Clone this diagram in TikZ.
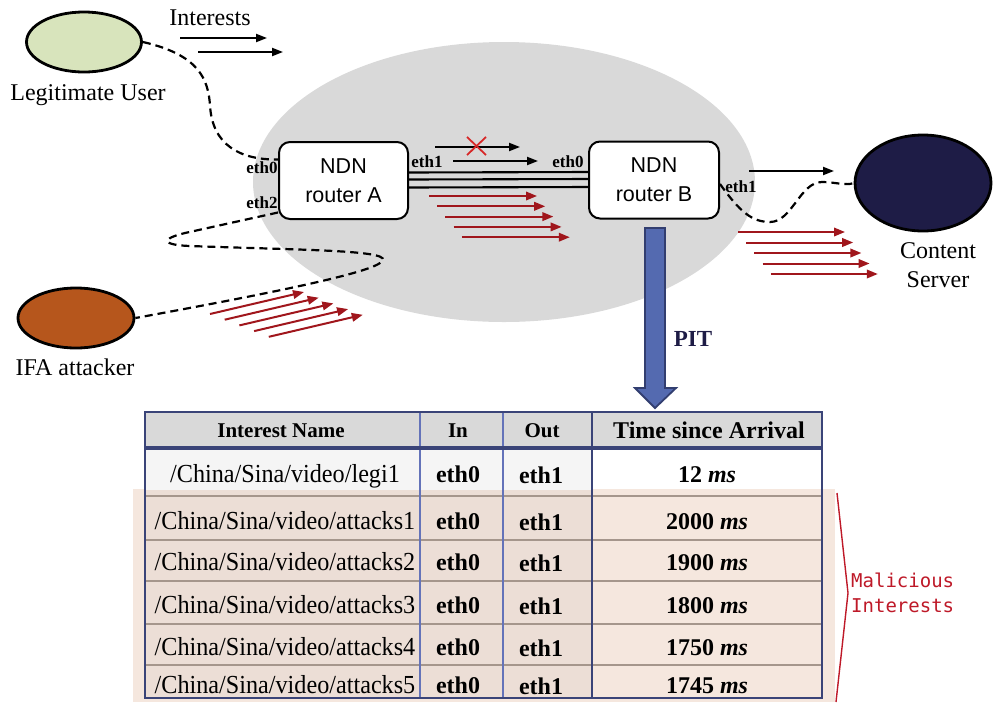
\documentclass[tikz,border=0pt]{standalone}
\usepackage{fontspec}
\setmainfont{Liberation Serif}
\newfontfamily\routerfont{Liberation Sans}
\newfontfamily\notefont{DejaVu Sans Mono}
\newfontfamily\narrowfont[FakeStretch=0.93]{Liberation Serif}
\usepackage{tikz}
\usetikzlibrary{arrows.meta,positioning,shapes.geometric}
\definecolor{cloudgray}{RGB}{217,217,217}
\definecolor{usergreen}{RGB}{216,228,188}
\definecolor{attackbrown}{RGB}{182,86,28}
\definecolor{servernavy}{RGB}{30,28,70}
\definecolor{attackred}{RGB}{160,22,28}
\definecolor{crossred}{RGB}{215,40,40}
\definecolor{pitblue}{RGB}{84,106,176}
\definecolor{pitedge}{RGB}{50,62,112}
\definecolor{tabnavy}{RGB}{58,68,120}
\definecolor{tabline}{RGB}{100,115,185}
\definecolor{rowpink}{RGB}{245,231,222}
\definecolor{rowpinkdark}{RGB}{236,222,214}
\definecolor{sepbrown}{RGB}{165,150,140}
\definecolor{bracered}{RGB}{190,25,40}

\begin{document}
\begin{tikzpicture}[x=1pt,y=-1pt,
  lbl/.style={font=\fontsize{24}{29}\selectfont,inner sep=0pt,align=center},
  router/.style={draw,line width=2pt,rounded corners=11pt,fill=white,minimum width=129pt,minimum height=77pt,align=center,font=\routerfont\fontsize{21.5}{29}\selectfont},
  host/.style={ellipse,draw,line width=2.8pt,inner sep=0pt},
  port/.style={font=\bfseries\fontsize{17}{17}\selectfont,inner sep=0pt,anchor=base},
  wire/.style={line width=2.2pt,dash pattern=on 8pt off 5pt},
  req/.style={line width=2pt,-{Triangle[length=11pt,width=8pt]}},
  flood/.style={attackred,line width=2pt,-{Triangle[length=11pt,width=8.5pt]}},
  hdr/.style={font=\bfseries\fontsize{21}{21}\selectfont,inner sep=0pt,anchor=base},
  cell/.style={font=\bfseries\fontsize{24}{24}\selectfont,inner sep=0pt,anchor=base},
  namecell/.style={font=\narrowfont\fontsize{26}{26}\selectfont,inner sep=0pt,anchor=base}]
\useasboundingbox (0,0) rectangle (993,702);

% network cloud
\fill[cloudgray] (504,182) ellipse [x radius=251pt,y radius=140pt];

% hosts
\node[host,fill=usergreen,minimum width=115pt,minimum height=60pt] (legit) at (84,42) {};
\node[host,fill=attackbrown,minimum width=116pt,minimum height=60pt] (attacker) at (76,318) {};
\node[host,fill=servernavy,minimum width=136pt,minimum height=96pt] (server) at (923,183) {};
\node[lbl,anchor=base] (legitlbl) at (88,100) {Legitimate User};
\node[lbl,anchor=base] (attackerlbl) at (75,375) {IFA attacker};
\node[lbl] (serverlbl) at (938,265) {Content\\Server};
\node[lbl,anchor=base] (interestlbl) at (210,25) {Interests};

% routers and link
\node[router] (routerA) at (343.5,180.5) {NDN\\router A};
\node[router,minimum width=130pt] (routerB) at (654,180) {NDN\\router B};
\foreach \s in {8,1,-7}
  \draw[line width=2.1pt] ([yshift=\s pt]routerA.east) -- ([yshift=\s pt]routerB.west);

% dashed access lines
\draw[wire] (legit.east) .. controls (200,55) and (208,80) .. (210,105) .. controls (212,145) and (240,160) .. ([yshift=21pt]routerA.west);
\draw[wire] ([yshift=-32pt]routerA.west) -- (185,233) .. controls (160,239) and (162,245) .. (190,246) .. controls (300,250) and (386,250) .. (383,260) .. controls (380,270) and (300,288) .. (attacker.east);
\draw[wire] ([yshift=-4pt]routerB.east) .. controls (740,212) and (752,222) .. (770,222) .. controls (792,222) and (800,182) .. (822,182) .. controls (835,182) and (846,186) .. (server.west);

% interfaces
\node[port] (portA0) at (262,173) {eth0};
\node[port] (portA2) at (262,208) {eth2};
\node[port] (portA1) at (427,167) {eth1};
\node[port] (portB0) at (568,167) {eth0};
\node[port] (portB1) at (741,192) {eth1};

% legitimate interests
\draw[req] (180,38) -- (267,38);
\draw[req] (198,52) -- (283,52);
\draw[req] (435,147) -- (520,147);
\draw[req] (453,161) -- (538,161);
\draw[req] (749,171) -- (834,171);
\draw[crossred,line width=1.8pt] (467,137) -- (486,155) (486,137) -- (467,155);

% malicious interests
\foreach \i in {0,...,4}{
  \draw[flood] (210+14.7*\i,314+5.7*\i) -- +(94,-22);
  \draw[flood] (429+8.2*\i,196+10.3*\i) -- +(108,0);
  \draw[flood] (738+8.2*\i,232+10.5*\i) -- +(107,0);
}

% PIT arrow
\filldraw[fill=pitblue,draw=pitedge,line width=1.8pt] (645,228) -- (665,228) -- (665,388) -- (676,388) -- (655,408) -- (635,388) -- (645,388) -- cycle;
\node[font=\bfseries\fontsize{23}{23}\selectfont,text=servernavy,inner sep=0pt,anchor=base] (pitlbl) at (693,346) {PIT};

% PIT table
\fill[rowpink] (133,489) rectangle (835,702);
\fill[cloudgray] (145,412) rectangle (822,448);
\fill[black!4] (145,448) rectangle (592,490);
\fill[rowpinkdark] (145,490) rectangle (592,698);
\foreach \y in {496,540,581,624,665}
  \draw[sepbrown,line width=2.6pt] (145,\y) -- (822,\y);
\draw[tabline,line width=1.2pt] (420,412) -- (420,698) (503,412) -- (503,698);
\draw[tabnavy,line width=2.8pt] (592,412) -- (592,698);
\draw[tabnavy,line width=3.5pt] (145,448) -- (822,448);
\draw[tabnavy,line width=2.8pt] (145,412) rectangle (822,698);

\node[hdr] (hname) at (281,437) {Interest Name};
\node[hdr] (hin) at (458,437) {In};
\node[hdr] (hout) at (542,437) {Out};
\node[cell] (htime) at (709,438) {Time since Arrival};
\foreach \n/\nm/\t/\by in {1/legi1/12/482,2/attacks1/2000/529,3/attacks2/1900/570,4/attacks3/1800/613,5/attacks4/1750/655,6/attacks5/1745/693}{
  \node[namecell] (name\n) at (285,\by) {/China/Sina/video/\nm};
  \node[cell] (in\n) at (458,\by) {eth0};
  \node[cell] (out\n) at (541,\by+1) {eth1};
  \node[cell] (time\n) at (707,\by) {\t\ \textit{ms}};
}

% malicious brace
\draw[bracered,line width=1.4pt] (837,493) -- (848,593) -- (836,702);
\node[font=\notefont\fontsize{19}{25}\selectfont,text=bracered,align=left,anchor=west,inner sep=0pt] (malicious) at (851,593) {Malicious\\Interests};
\end{tikzpicture}
\end{document}
